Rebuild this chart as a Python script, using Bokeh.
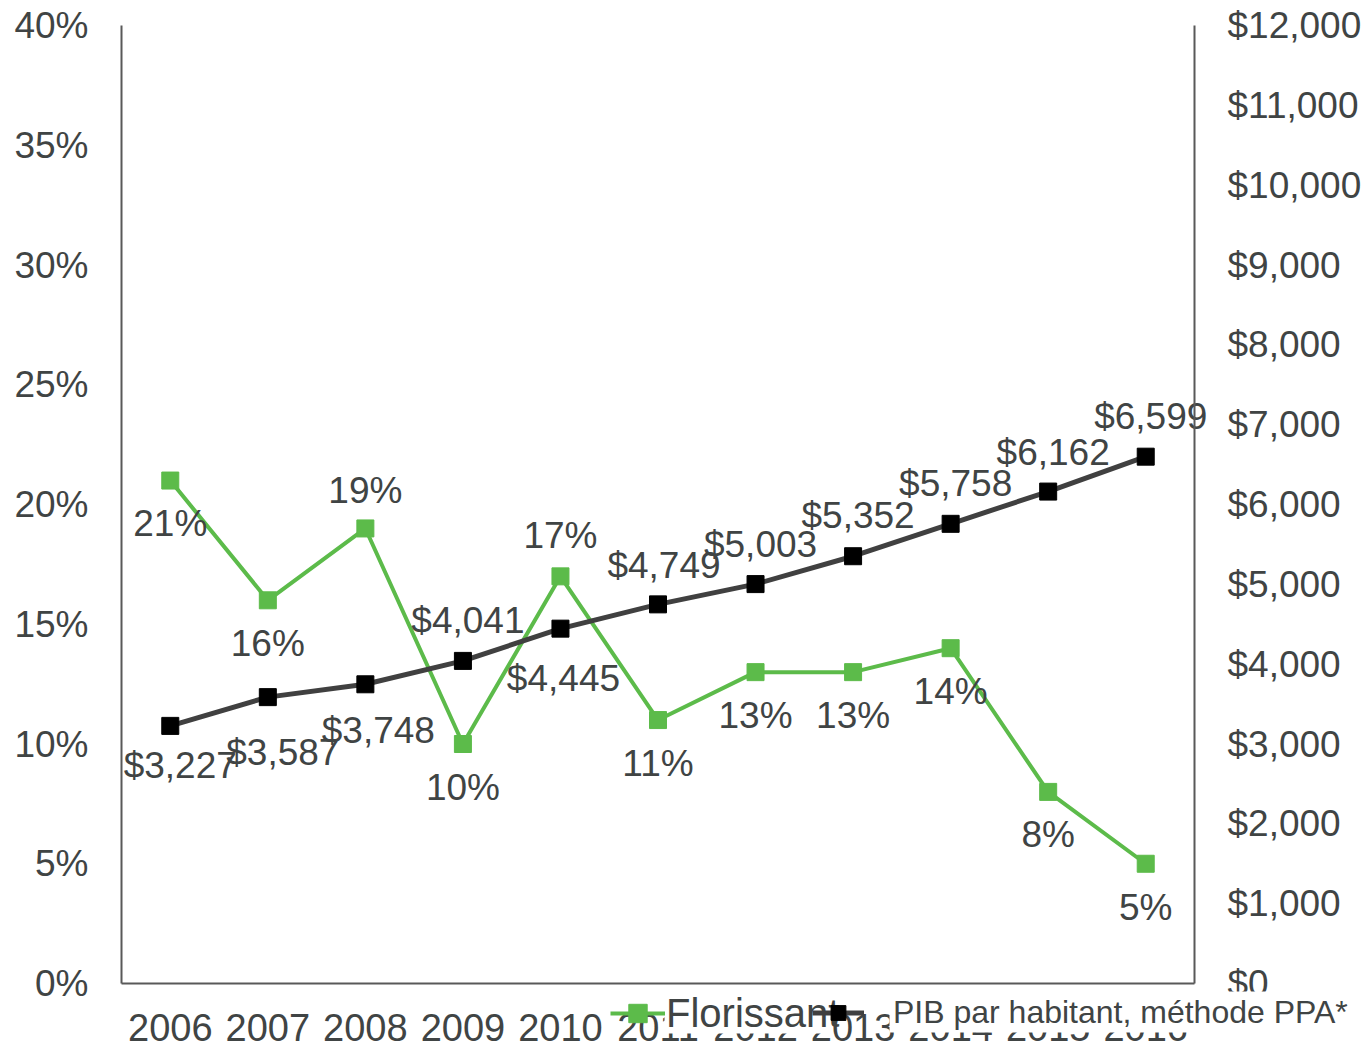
from bokeh.plotting import figure
from bokeh.models import (Range1d, LinearAxis, FixedTicker, PrintfTickFormatter,
                          NumeralTickFormatter, ColumnDataSource, Legend, LegendItem,
                          BoxAnnotation)
from bokeh.embed import file_html
from bokeh.resources import INLINE
from bokeh.core.properties import value

# ---------------- data ----------------
years = [2006, 2007, 2008, 2009, 2010, 2011, 2012, 2013, 2014, 2015, 2016]
florissant = [21, 16, 19, 10, 17, 11, 13, 13, 14, 8, 5]          # %
gdp_ppp = [3227, 3587, 3748, 4041, 4445, 4749, 5003, 5352, 5758, 6162, 6599]  # $
flor_labels = [f"{v}%" for v in florissant]
gdp_labels = ["${:,}".format(v) for v in gdp_ppp]
left_ticks = [0, 5, 10, 15, 20, 25, 30, 35, 40]
right_ticks = list(range(0, 12001, 1000))
series_names = ["Florissant", "PIB par habitant, méthode PPA*"]

# ---------------- label placement (style, screen px) ----------------
flor_dy = [43, 43, -38, 43, -41, 43, 43, 43, 43, 43, 44]
gdp_dx = [10, 15, 13, 5, 3, 6, 5, 5, 5, 5, 5]
gdp_dy = [40, 55, 46, -40, 50, -39, -40, -41, -40, -39, -40]

GREEN = "#5cbb4a"
DARK = "#404040"
TXT = "#404444"
FONT = "Liberation Sans"
FS = "37px"

# ---------------- layout (canvas pixels) ----------------
W, H = 1368, 1047
AX_L, AX_R, AX_T, AX_B = 121, 1194, 25, 983     # plotting box edges on canvas
X0, X1 = years[0] - 0.5, years[-1] + 0.5
Y0, Y1 = 0, 40
G1 = 12000
xs = (AX_R - AX_L) / (X1 - X0)
ys = (AX_B - AX_T) / (Y1 - Y0)
x_range = Range1d(X0 - AX_L / xs, X1 + (W - AX_R) / xs)
y_range = Range1d(Y0 - (H - AX_B) / ys, Y1 + AX_T / ys)
k = G1 / (Y1 - Y0)


def px_x(px):
    return x_range.start + px / xs


def px_y(py):
    return y_range.end - py / ys


p = figure(width=W, height=H, output_backend="svg", toolbar_location=None,
           x_range=x_range, y_range=y_range, min_border=0)
p.outline_line_color = None
p.xgrid.visible = False
p.ygrid.visible = False
p.background_fill_color = "white"
p.border_fill_color = "white"

p.extra_y_ranges = {"gdp": Range1d(y_range.start * k, y_range.end * k)}
p.add_layout(LinearAxis(y_range_name="gdp"), "right")

for ax in p.axis:
    ax.axis_line_color = "#595959"
    ax.axis_line_width = 2
    ax.major_tick_line_color = None
    ax.minor_tick_line_color = None
    ax.major_label_text_font = FONT
    ax.major_label_text_font_size = FS
    ax.major_label_text_color = TXT

p.xaxis.fixed_location = Y0
p.xaxis.bounds = (X0, X1)
p.xaxis.ticker = FixedTicker(ticks=years)
p.xaxis.major_label_standoff = 24
p.xaxis.major_label_text_font_size = "38px"

p.yaxis[0].fixed_location = X0
p.yaxis[0].bounds = (Y0, Y1)
p.yaxis[0].ticker = FixedTicker(ticks=left_ticks)
p.yaxis[0].formatter = PrintfTickFormatter(format="%d%%")
p.yaxis[0].major_label_standoff = 27

p.yaxis[1].fixed_location = X1
p.yaxis[1].bounds = (0, G1)
p.yaxis[1].ticker = FixedTicker(ticks=right_ticks)
p.yaxis[1].formatter = NumeralTickFormatter(format="$0,0")
p.yaxis[1].major_label_standoff = 27

src_f = ColumnDataSource(dict(x=years, y=florissant, t=flor_labels, yo=flor_dy))
src_g = ColumnDataSource(dict(x=years, y=gdp_ppp, t=gdp_labels, xo=gdp_dx, yo=gdp_dy))

g_line = p.line("x", "y", source=src_f, line_color=GREEN, line_width=4)
g_sq = p.scatter("x", "y", source=src_f, marker="square", size=17,
                 fill_color=GREEN, line_color=GREEN)
k_line = p.line("x", "y", source=src_g, line_color=DARK, line_width=5,
                y_range_name="gdp")
k_sq = p.scatter("x", "y", source=src_g, marker="square", size=17,
                 fill_color="black", line_color="black", y_range_name="gdp")

p.text("x", "y", text="t", source=src_f, text_align="center",
       text_baseline="middle", y_offset="yo", text_font=value(FONT),
       text_font_size=FS, text_color=TXT)
p.text("x", "y", text="t", source=src_g, text_align="center",
       text_baseline="middle", y_offset="yo", x_offset="xo", text_font=value(FONT),
       text_font_size=FS, text_color=TXT, y_range_name="gdp")

# white boxes behind the legend texts (they hide parts of the axis labels)
p.add_layout(BoxAnnotation(left=px_x(664), right=px_x(830), top=px_y(992),
                           bottom=px_y(1033), fill_color="white", fill_alpha=1,
                           line_color=None, level="overlay"))
p.add_layout(BoxAnnotation(left=px_x(889), right=px_x(1352), top=px_y(991),
                           bottom=px_y(1032), fill_color="white", fill_alpha=1,
                           line_color=None, level="overlay"))

common = dict(orientation="horizontal", padding=0, margin=0, spacing=0,
              border_line_color=None, background_fill_alpha=0.0,
              label_text_color=TXT, label_text_font=FONT, level="overlay")
leg1 = Legend(items=[LegendItem(label=series_names[0], renderers=[g_line, g_sq])],
              location=(610, 11), label_text_font_size="40px", glyph_width=55,
              glyph_height=46, label_height=46, label_standoff=1, **common)
leg2 = Legend(items=[LegendItem(label=series_names[1], renderers=[k_line, k_sq])],
              location=(812, 16), label_text_font_size="32px", glyph_width=52,
              glyph_height=37, label_height=37, label_standoff=29, **common)
p.add_layout(leg1)
p.add_layout(leg2)

open("out.html", "w").write(file_html(p, INLINE))
